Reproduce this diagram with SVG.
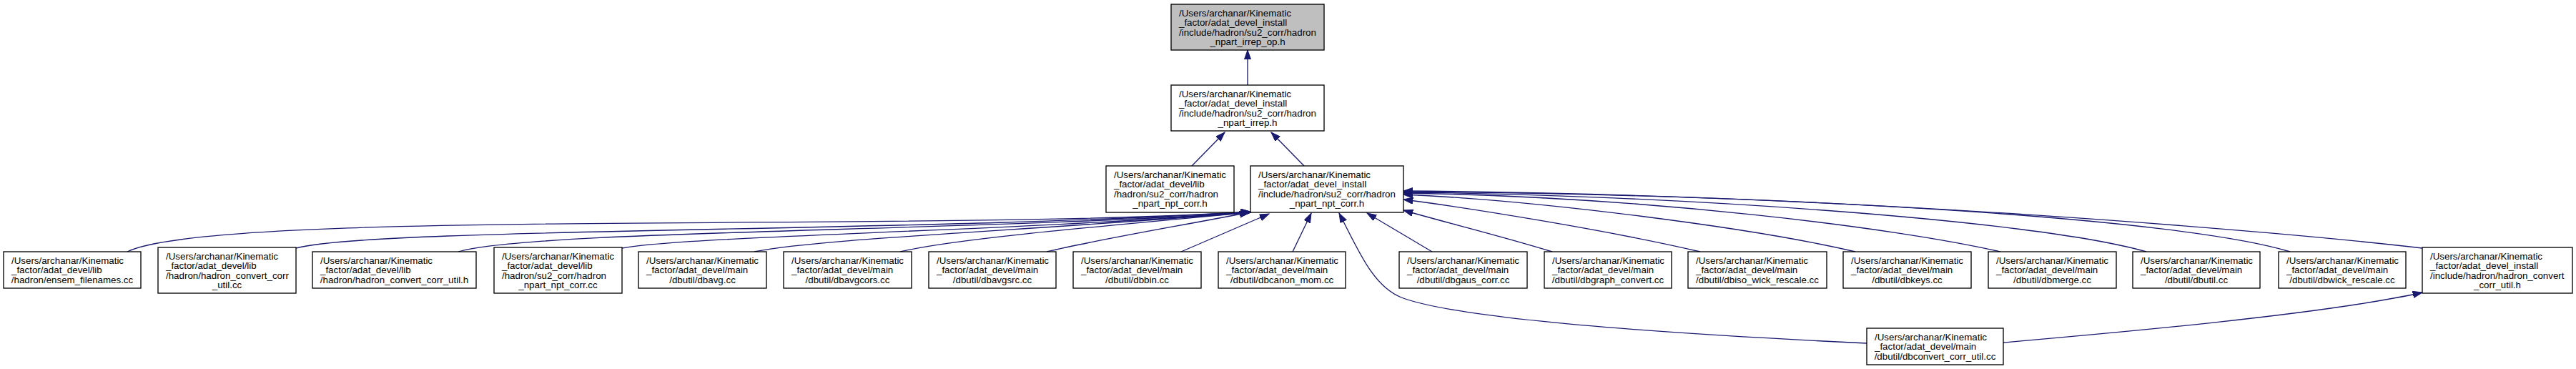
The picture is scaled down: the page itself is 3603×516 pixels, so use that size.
<svg xmlns="http://www.w3.org/2000/svg" width="3603" height="516" viewBox="0 0 3603 516">
<style>
.box{fill:#ffffff;stroke:#000000;stroke-width:1.33}
.root{fill:#bfbfbf;stroke:#000000;stroke-width:1.33}
text{font-family:"Liberation Sans",Arial,Helvetica,sans-serif;font-size:13.33px;fill:#000000}
.c{text-anchor:middle}
.e{fill:none;stroke:#191970;stroke-width:1.33}
</style>
<defs>
<marker id="ah" markerUnits="userSpaceOnUse" markerWidth="16" markerHeight="12" refX="13.3" refY="4.67" orient="auto">
<path d="M0,0 L13.3,4.67 L0,9.33 z" fill="#191970" stroke="#191970" stroke-width="1"/>
</marker>
</defs>
<rect width="3603" height="516" fill="#ffffff"/>
<g id="edges">
<path class="e" marker-end="url(#ah)" d="M1745,119 L1745,70"/>
<path class="e" marker-end="url(#ah)" d="M1667,232 L1713,185"/>
<path class="e" marker-end="url(#ah)" d="M1824,232 L1778,185"/>
<path class="e" marker-end="url(#ah)" d="M178,352 C300,292 1300,325 1749,296"/>
<path class="e" marker-end="url(#ah)" d="M414,347 C520,318 1300,325 1749,296"/>
<path class="e" marker-end="url(#ah)" d="M641,352 C740,322 1350,324 1749,297"/>
<path class="e" marker-end="url(#ah)" d="M870,347 C960,330 1400,324 1749,297"/>
<path class="e" marker-end="url(#ah)" d="M1055,352 C1150,333 1450,322 1749,297"/>
<path class="e" marker-end="url(#ah)" d="M1259,352 C1330,335 1500,320 1749,297"/>
<path class="e" marker-end="url(#ah)" d="M1464,352 C1540,334 1650,316 1747,297"/>
<path class="e" marker-end="url(#ah)" d="M1652,352 L1775,299"/>
<path class="e" marker-end="url(#ah)" d="M1808,352 L1834,298"/>
<path class="e" marker-end="url(#ah)" d="M2611,480 C2400,470 2050,450 1960,416 C1920,400 1900,350 1873,298"/>
<path class="e" marker-end="url(#ah)" d="M2003,352 L1912,298"/>
<path class="e" marker-end="url(#ah)" d="M2171,352 C2100,330 2010,308 1963,294"/>
<path class="e" marker-end="url(#ah)" d="M2378,352 C2250,322 2050,290 1963,279"/>
<path class="e" marker-end="url(#ah)" d="M2595,352 C2450,318 2150,280 1963,272"/>
<path class="e" marker-end="url(#ah)" d="M2798,352 C2650,318 2300,275 1963,270"/>
<path class="e" marker-end="url(#ah)" d="M3002,352 C2846,307 2327,272 1963,269"/>
<path class="e" marker-end="url(#ah)" d="M3203,352 C3050,305 2500,272 1963,268"/>
<path class="e" marker-end="url(#ah)" d="M3388,347 C3200,325 2600,272 1963,267"/>
<path class="e" marker-end="url(#ah)" d="M2802,479 C2950,466 3250,440 3388,409"/>
</g>
<g id="n_top">
<rect class="root" x="1638" y="6" width="214" height="64"/>
<text x="1649" y="22.8">/Users/archanar/Kinematic</text>
<text x="1649" y="36.1">_factor/adat_devel_install</text>
<text x="1649" y="49.5">/include/hadron/su2_corr/hadron</text>
<text class="c" x="1745" y="62.8">_npart_irrep_op.h</text>
</g>
<g id="n_irrep">
<rect class="box" x="1638" y="119" width="214" height="64"/>
<text x="1649" y="135.8">/Users/archanar/Kinematic</text>
<text x="1649" y="149.1">_factor/adat_devel_install</text>
<text x="1649" y="162.5">/include/hadron/su2_corr/hadron</text>
<text class="c" x="1745" y="175.8">_npart_irrep.h</text>
</g>
<g id="n_lib_npt_h">
<rect class="box" x="1547" y="232" width="179" height="65"/>
<text x="1558" y="248.8">/Users/archanar/Kinematic</text>
<text x="1558" y="262.1">_factor/adat_devel/lib</text>
<text x="1558" y="275.5">/hadron/su2_corr/hadron</text>
<text class="c" x="1636.5" y="288.8">_npart_npt_corr.h</text>
</g>
<g id="n_inst_npt_h">
<rect class="box" x="1749" y="232" width="214" height="65"/>
<text x="1760" y="248.8">/Users/archanar/Kinematic</text>
<text x="1760" y="262.1">_factor/adat_devel_install</text>
<text x="1760" y="275.5">/include/hadron/su2_corr/hadron</text>
<text class="c" x="1856" y="288.8">_npart_npt_corr.h</text>
</g>
<g id="n_ensem">
<rect class="box" x="5" y="352" width="192" height="51"/>
<text x="16" y="368.8">/Users/archanar/Kinematic</text>
<text x="16" y="382.1">_factor/adat_devel/lib</text>
<text class="c" x="101" y="395.5">/hadron/ensem_filenames.cc</text>
</g>
<g id="n_hcc_cc">
<rect class="box" x="221" y="346" width="193" height="64"/>
<text x="232" y="362.8">/Users/archanar/Kinematic</text>
<text x="232" y="376.1">_factor/adat_devel/lib</text>
<text x="232" y="389.5">/hadron/hadron_convert_corr</text>
<text class="c" x="317.5" y="402.8">_util.cc</text>
</g>
<g id="n_hcc_h_lib">
<rect class="box" x="437" y="352" width="229" height="51"/>
<text x="448" y="368.8">/Users/archanar/Kinematic</text>
<text x="448" y="382.1">_factor/adat_devel/lib</text>
<text class="c" x="551.5" y="395.5">/hadron/hadron_convert_corr_util.h</text>
</g>
<g id="n_npt_cc">
<rect class="box" x="691" y="346" width="179" height="64"/>
<text x="702" y="362.8">/Users/archanar/Kinematic</text>
<text x="702" y="376.1">_factor/adat_devel/lib</text>
<text x="702" y="389.5">/hadron/su2_corr/hadron</text>
<text class="c" x="780.5" y="402.8">_npart_npt_corr.cc</text>
</g>
<g id="n_dbavg">
<rect class="box" x="893" y="352" width="179" height="51"/>
<text x="904" y="368.8">/Users/archanar/Kinematic</text>
<text x="904" y="382.1">_factor/adat_devel/main</text>
<text class="c" x="982.5" y="395.5">/dbutil/dbavg.cc</text>
</g>
<g id="n_dbavgcors">
<rect class="box" x="1096" y="352" width="179" height="51"/>
<text x="1107" y="368.8">/Users/archanar/Kinematic</text>
<text x="1107" y="382.1">_factor/adat_devel/main</text>
<text class="c" x="1185.5" y="395.5">/dbutil/dbavgcors.cc</text>
</g>
<g id="n_dbavgsrc">
<rect class="box" x="1299" y="352" width="178" height="51"/>
<text x="1310" y="368.8">/Users/archanar/Kinematic</text>
<text x="1310" y="382.1">_factor/adat_devel/main</text>
<text class="c" x="1388" y="395.5">/dbutil/dbavgsrc.cc</text>
</g>
<g id="n_dbbin">
<rect class="box" x="1501" y="352" width="179" height="51"/>
<text x="1512" y="368.8">/Users/archanar/Kinematic</text>
<text x="1512" y="382.1">_factor/adat_devel/main</text>
<text class="c" x="1590.5" y="395.5">/dbutil/dbbin.cc</text>
</g>
<g id="n_dbcanon">
<rect class="box" x="1704" y="352" width="178" height="51"/>
<text x="1715" y="368.8">/Users/archanar/Kinematic</text>
<text x="1715" y="382.1">_factor/adat_devel/main</text>
<text class="c" x="1793" y="395.5">/dbutil/dbcanon_mom.cc</text>
</g>
<g id="n_dbgaus">
<rect class="box" x="1957" y="352" width="179" height="51"/>
<text x="1968" y="368.8">/Users/archanar/Kinematic</text>
<text x="1968" y="382.1">_factor/adat_devel/main</text>
<text class="c" x="2046.5" y="395.5">/dbutil/dbgaus_corr.cc</text>
</g>
<g id="n_dbgraph">
<rect class="box" x="2160" y="352" width="178" height="51"/>
<text x="2171" y="368.8">/Users/archanar/Kinematic</text>
<text x="2171" y="382.1">_factor/adat_devel/main</text>
<text class="c" x="2249" y="395.5">/dbutil/dbgraph_convert.cc</text>
</g>
<g id="n_dbiso">
<rect class="box" x="2361" y="352" width="194" height="51"/>
<text x="2372" y="368.8">/Users/archanar/Kinematic</text>
<text x="2372" y="382.1">_factor/adat_devel/main</text>
<text class="c" x="2458" y="395.5">/dbutil/dbiso_wick_rescale.cc</text>
</g>
<g id="n_dbkeys">
<rect class="box" x="2578" y="352" width="179" height="51"/>
<text x="2589" y="368.8">/Users/archanar/Kinematic</text>
<text x="2589" y="382.1">_factor/adat_devel/main</text>
<text class="c" x="2667.5" y="395.5">/dbutil/dbkeys.cc</text>
</g>
<g id="n_dbmerge">
<rect class="box" x="2781" y="352" width="179" height="51"/>
<text x="2792" y="368.8">/Users/archanar/Kinematic</text>
<text x="2792" y="382.1">_factor/adat_devel/main</text>
<text class="c" x="2870.5" y="395.5">/dbutil/dbmerge.cc</text>
</g>
<g id="n_dbutil">
<rect class="box" x="2983" y="352" width="178" height="51"/>
<text x="2994" y="368.8">/Users/archanar/Kinematic</text>
<text x="2994" y="382.1">_factor/adat_devel/main</text>
<text class="c" x="3072" y="395.5">/dbutil/dbutil.cc</text>
</g>
<g id="n_dbwick">
<rect class="box" x="3187" y="352" width="178" height="51"/>
<text x="3198" y="368.8">/Users/archanar/Kinematic</text>
<text x="3198" y="382.1">_factor/adat_devel/main</text>
<text class="c" x="3276" y="395.5">/dbutil/dbwick_rescale.cc</text>
</g>
<g id="n_hcc_h_inst">
<rect class="box" x="3388" y="346" width="210" height="64"/>
<text x="3399" y="362.8">/Users/archanar/Kinematic</text>
<text x="3399" y="376.1">_factor/adat_devel_install</text>
<text x="3399" y="389.5">/include/hadron/hadron_convert</text>
<text class="c" x="3493" y="402.8">_corr_util.h</text>
</g>
<g id="n_dbconvert">
<rect class="box" x="2611" y="459" width="191" height="51"/>
<text x="2622" y="475.8">/Users/archanar/Kinematic</text>
<text x="2622" y="489.1">_factor/adat_devel/main</text>
<text class="c" x="2706.5" y="502.5">/dbutil/dbconvert_corr_util.cc</text>
</g>
</svg>
